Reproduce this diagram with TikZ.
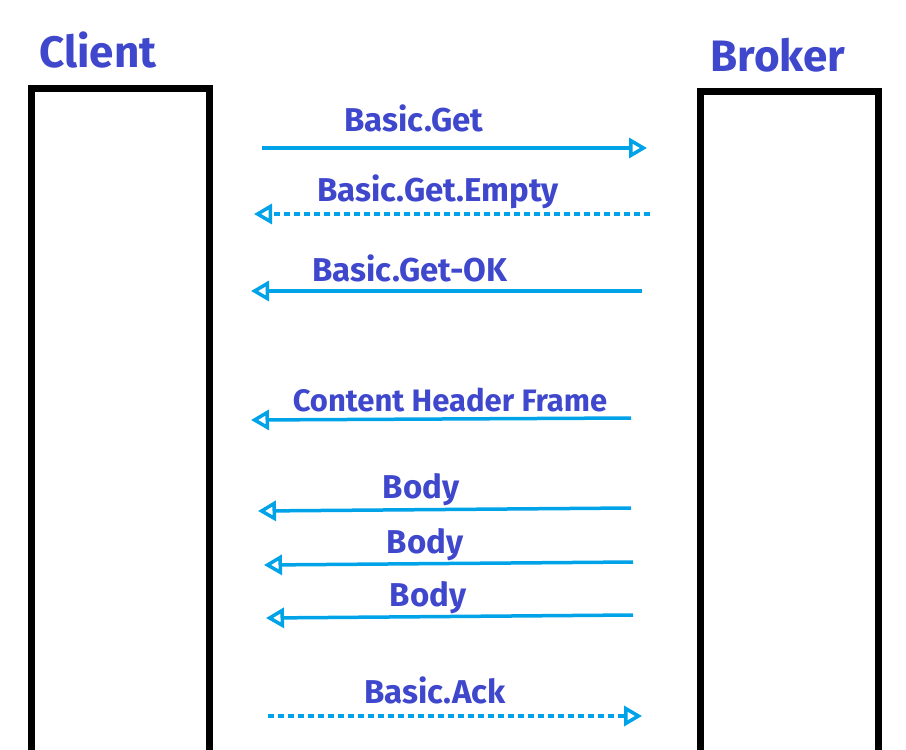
\documentclass[tikz,border=0pt]{standalone}
\usepackage{fontspec}
\setmainfont{Fira Sans}
\usepackage{tikz}
\usetikzlibrary{positioning,arrows.meta,calc}
\definecolor{ink}{HTML}{3F48CC}
\definecolor{wire}{HTML}{00A2E8}
\tikzset{
  party/.style={draw=black, line width=7pt},
  who/.style ={text=ink, font=\fontsize{44}{48}\selectfont\bfseries, inner sep=0pt},
  lbl/.style ={text=ink, font=\fontsize{33}{36}\selectfont\bfseries, inner sep=0pt},
  msg/.style ={draw=wire, line width=3.5pt, -{Triangle[open,length=18pt,width=20pt,line width=3.5pt,fill=white]}},
  dmsg/.style={msg, dash pattern=on 6pt off 4pt},
}
\begin{document}
\begin{tikzpicture}[x=1pt,y=-1pt]
\useasboundingbox (0,0) rectangle (906,750);
% lifelines (open at the bottom)
\draw[party] (31,770) -- (31,88) -- (209,88) -- (209,770);
\draw[party] (700,770) -- (700,91) -- (878,91) -- (878,770);
\node[who] (client) at (98,50) {Client};
\node[who] (broker) at (778,55) {Broker};
% message ends
\coordinate (get0) at (262,148);   \coordinate (get1) at (647,148);
\coordinate (emp0) at (650,214);   \coordinate (emp1) at (254,214);
\coordinate (ok0) at (642,291);    \coordinate (ok1) at (251,291);
\coordinate (chf0) at (631,418);   \coordinate (chf1) at (251,420);
\coordinate (bdA0) at (631,508);   \coordinate (bdA1) at (258,511);
\coordinate (bdB0) at (633,562);   \coordinate (bdB1) at (264,565);
\coordinate (bdC0) at (633,615);   \coordinate (bdC1) at (266,618);
\coordinate (ack0) at (268,716);   \coordinate (ack1) at (642,716);
% requests and replies
\draw[msg] (get0) -- (get1);
\draw[dmsg] (emp0) -- (emp1);
\draw[msg] (ok0) -- (ok1);
\draw[msg] (chf0) -- (chf1);
\draw[msg] (bdA0) -- (bdA1);
\draw[msg] (bdB0) -- (bdB1);
\draw[msg] (bdC0) -- (bdC1);
\draw[dmsg] (ack0) -- (ack1);
% labels
\node[lbl] (tget) at (414,118) {Basic.Get};
\node[lbl] (temp) at (438,192) {Basic.Get.Empty};
\node[lbl] (tok) at (410,268) {Basic.Get-OK};
\node[lbl, font=\fontsize{31}{34}\selectfont\bfseries] (tchf) at (450,400) {Content Header Frame};
\node[lbl] (tbdA) at (421,490) {Body};
\node[lbl] (tbdB) at (425,545) {Body};
\node[lbl] (tbdC) at (428,598) {Body};
\node[lbl] (tack) at (435,690) {Basic.Ack};
\end{tikzpicture}
\end{document}
